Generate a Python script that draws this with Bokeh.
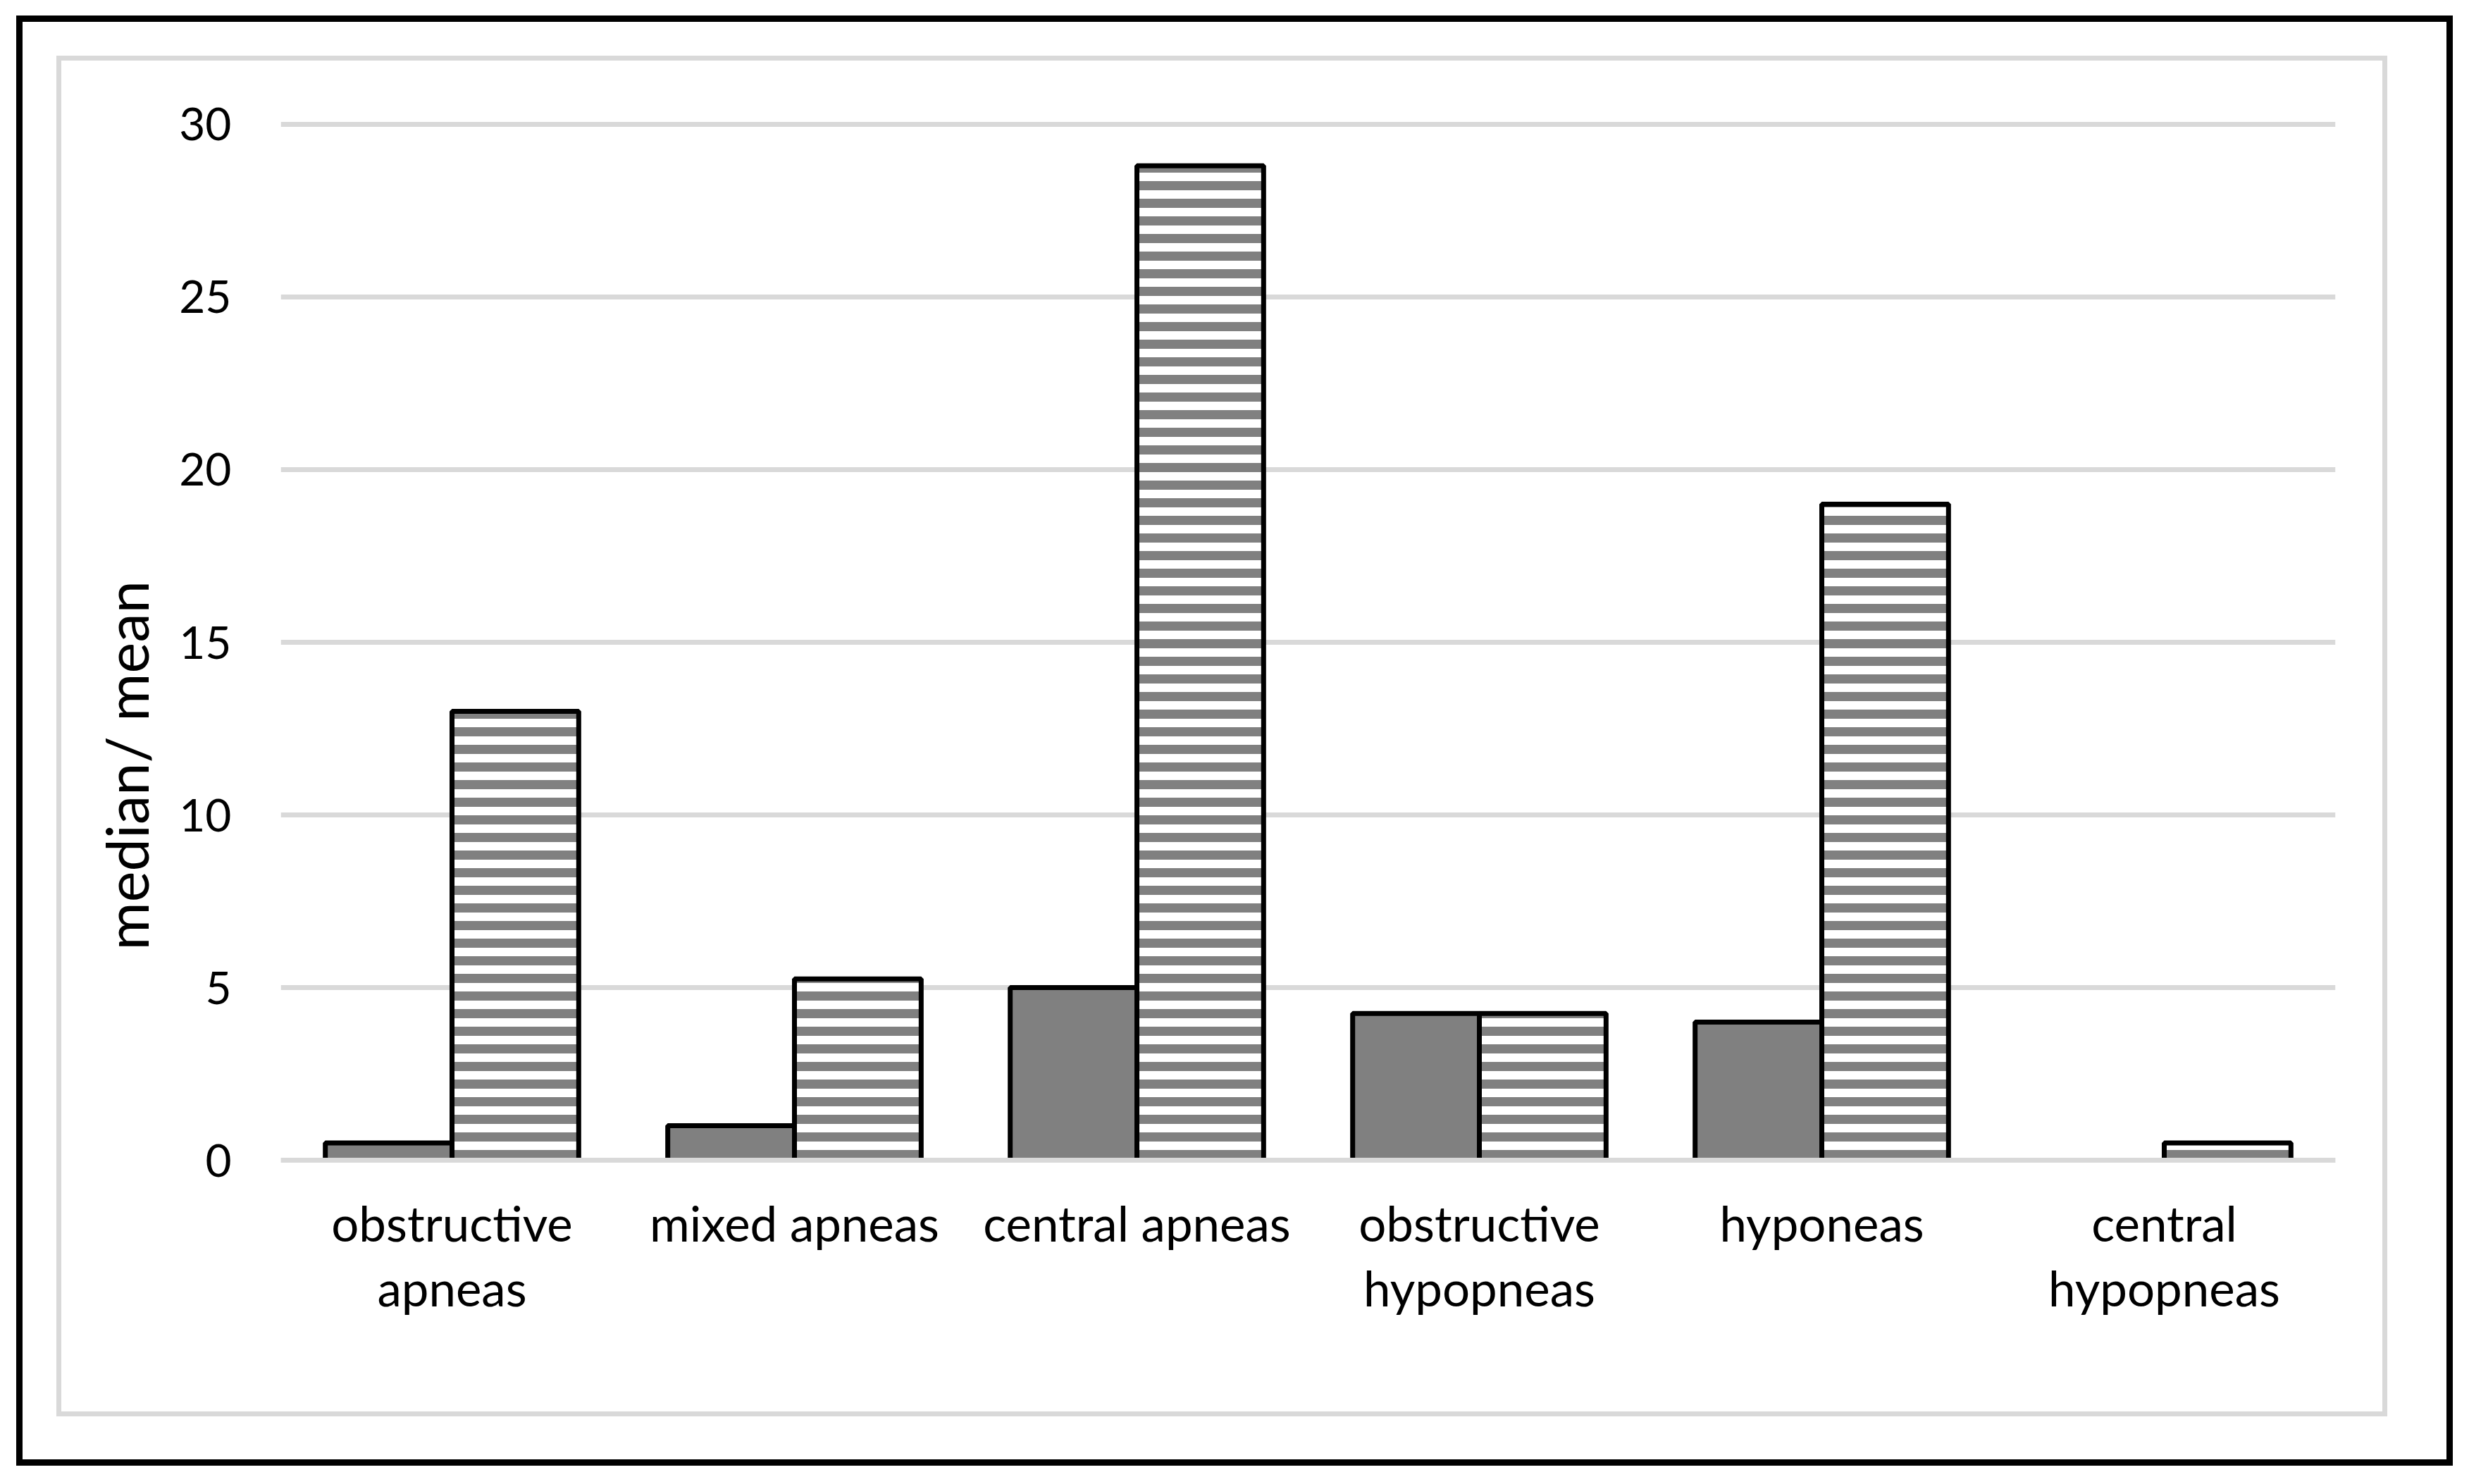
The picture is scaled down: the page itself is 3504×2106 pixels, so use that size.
from bokeh.plotting import figure
from bokeh.models import (FactorRange, Range1d, FixedTicker, Span, Title,
                          ColumnDataSource)
from bokeh.transform import dodge
from bokeh.embed import file_html
from bokeh.resources import INLINE

# ---- data ----
categories = ["obstructive\napneas", "mixed apneas", "central apneas",
              "obstructive\nhypopneas", "hyponeas", "central\nhypopneas"]
median_values = [0.5, 1.0, 5.0, 4.25, 4.0, 0.0]
mean_values = [13.0, 5.25, 28.8, 4.25, 19.0, 0.5]
y_ticks = [0, 5, 10, 15, 20, 25, 30]
y_axis_title = "median/ mean"

# ---- layout (pixels) ----
W, H = 3488, 2090
FL, FR, FT, FH = 398, 3314, 171, 1480

# chart decoration rectangles drawn as CSS backgrounds: (x, y, w, h, colour)
BLACK, GRAY = "#000000", "#d9d9d9"
frame_rects = [
    (23, 22, 3458, 9, BLACK), (23, 2071, 3458, 9, BLACK),
    (23, 22, 9, 2058, BLACK), (3472, 22, 9, 2058, BLACK),
    (80, 79, 3308, 7, GRAY), (80, 2003, 3308, 7, GRAY),
    (80, 79, 7, 1931, GRAY), (3381, 79, 7, 1931, GRAY),
]
css = {
    "background-color": "white",
    "background-image": ", ".join(f"linear-gradient({c}, {c})" for *_, c in frame_rects),
    "background-position": ", ".join(f"{x}px {y}px" for x, y, *_ in frame_rects),
    "background-size": ", ".join(f"{w}px {h}px" for _, _, w, h, _ in frame_rects),
    "background-repeat": "no-repeat",
}

p = figure(width=W, height=H,
           x_range=FactorRange(factors=categories, range_padding=0, factor_padding=0),
           y_range=Range1d(-0.1, 30.1),
           output_backend="svg", toolbar_location=None,
           min_border_left=FL, min_border_right=W - FR,
           min_border_top=FT, min_border_bottom=H - FT - FH,
           styles=css)
p.outline_line_color = None
p.background_fill_color = "white"
p.border_fill_color = None

source = ColumnDataSource(dict(cat=categories, median=median_values, mean=mean_values))

p.vbar(x=dodge("cat", -0.185, range=p.x_range), top="median", bottom=0, width=0.37,
       source=source, fill_color="#808080", line_color="black", line_width=7)
p.vbar(x=dodge("cat", 0.185, range=p.x_range), top="mean", bottom=0, width=0.37,
       source=source, fill_color="white", hatch_pattern="horizontal_line",
       hatch_color="#808080", hatch_scale=25, hatch_weight=13,
       line_color="black", line_width=7)

p.add_layout(Span(location=0, dimension="width", line_color="#d9d9d9",
                  line_width=7, level="overlay"))

# grid
p.xgrid.visible = False
p.ygrid.ticker = FixedTicker(ticks=y_ticks)
p.ygrid.grid_line_color = "#d9d9d9"
p.ygrid.grid_line_width = 7

# axes
for ax in (p.xaxis, p.yaxis):
    ax.axis_line_color = None
    ax.major_tick_line_color = None
    ax.minor_tick_line_color = None
    ax.major_tick_out = 0
    ax.major_tick_in = 0
    ax.major_label_text_font = "Lato"
    ax.major_label_text_color = "black"
p.xaxis.major_label_text_font_size = "69px"
p.yaxis.major_label_text_font_size = "64px"
p.yaxis.ticker = FixedTicker(ticks=y_ticks)
p.yaxis.major_label_standoff = 70
p.xaxis.major_label_standoff = 42
p.xaxis.major_label_text_line_height = 1.12

p.add_layout(Title(text=y_axis_title, align="left", offset=303,
                   vertical_align="middle", standoff=44,
                   text_font="Lato", text_font_size="83px",
                   text_font_style="normal", text_color="black"), "left")

open("out.html", "w").write(file_html(p, INLINE))
